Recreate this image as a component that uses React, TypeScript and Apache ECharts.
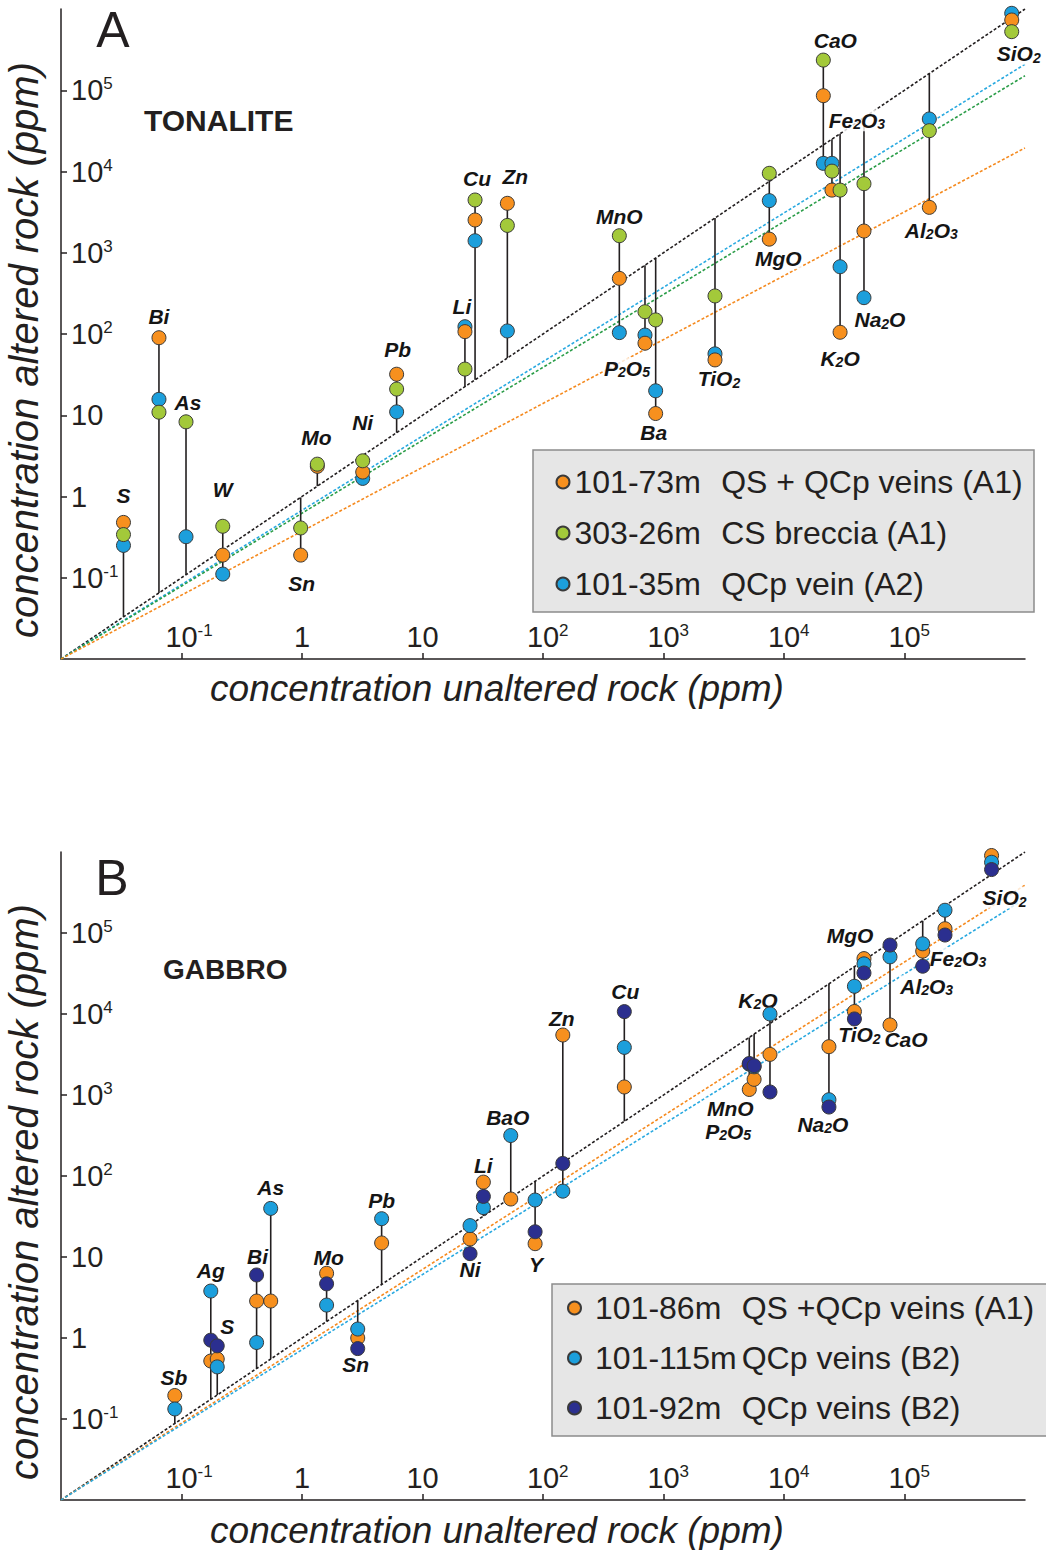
import React, { useEffect, useRef } from 'react';
import * as echarts from 'echarts';

const FONT = '"Liberation Sans", Arial, Helvetica, sans-serif';
const INK = '#231f20';
const LABEL_INK = '#151515';

// ---------- tick labels (powers of ten) ----------
const tickExponents = [-1, 0, 1, 2, 3, 4, 5];
const axisMinExp = -2;
const axisMaxExp = 6;

// ---------- Panel A : TONALITE ----------
const elementsA = ['S', 'Bi', 'As', 'W', 'Sn', 'Mo', 'Ni', 'Pb', 'Li', 'Cu', 'Zn', 'MnO', 'P2O5', 'Ba', 'TiO2', 'MgO', 'CaO', 'Fe2O3', 'K2O', 'Na2O', 'Al2O3', 'SiO2'];
const unalteredA = [0.033, 0.065, 0.109, 0.22, 0.975, 1.34, 3.19, 6.1, 22.5, 27.3, 50.6, 430, 702, 861, 2675, 7550, 21200, 25000, 29200, 46100, 160700, 776000];
const a_101_73 = [0.48, 90, null, 0.19, 0.19, 2.35, 2.0, 32, 107, 2530, 4060, 484, 77, 10.5, 48, 1470, 85700, 5900, 105, 1850, 3620, 732000];
const a_303_26 = [0.34, 10.9, 8.3, 0.43, 0.41, 2.5, 2.75, 21, 37, 4460, 2170, 1620, 188, 149, 294, 9500, 235000, 10100, 5900, 7080, 31800, 526000];
const a_101_35 = [0.25, 15.7, 0.32, 0.111, null, null, 1.67, 11, 123, 1406, 109, 104, 97, 20, 57, 4380, 12600, 12600, 673, 280, 44300, 885000];
const sampleIdsA = ['101-73m', '303-26m', '101-35m'];
const sampleDescA = ['QS + QCp veins (A1)', 'CS breccia (A1)', 'QCp vein (A2)'];
// isocon lines: altered value reached at unaltered = 10^6 (lines start at the origin corner)
const isoconEndA = [1e6, 209000, 151000, 19500];
const isoconColorsA = ['#231f20', '#29a9e0', '#2a9d48', '#f58a1f'];
const labelAnchorA = ['t', 't', 't', 't', 'b', 't', 't', 't', 't', 't', 't', 't', 'b', 'b', 'b', 'b', 't', 't', 'b', 'b', 'b', 'b'];
const labelOffsetA = [[0, -27], [0, -21], [2, -19], [0, -37], [1, 28], [-1, -27], [0, -38], [1, -25], [-3, -20], [2, -21], [8, -27], [0, -19], [-18, 25], [-2, 19], [4, 19], [9, 19], [12, -20], [25, -43], [0, 26], [16, 22], [2, 23], [7, 22]];

// ---------- Panel B : GABBRO ----------
const elementsB = ['Sb', 'Ag', 'S', 'Bi', 'As', 'Mo', 'Sn', 'Pb', 'Ni', 'Li', 'BaO', 'Y', 'Zn', 'Cu', 'MnO', 'P2O5', 'K2O', 'Na2O', 'TiO2', 'MgO', 'CaO', 'Al2O3', 'Fe2O3', 'SiO2'];
const unalteredB = [0.088, 0.175, 0.198, 0.42, 0.55, 1.6, 2.9, 4.58, 24.8, 32, 54, 86, 146, 473, 5150, 5650, 7650, 23600, 38400, 46100, 75800, 141600, 216800, 528000];
const b_101_86 = [0.195, 0.52, 0.55, 2.86, 2.86, 6.3, 1.0, 14.9, 16.7, 84, 52, 14.6, 5500, 1256, 1170, 1560, 3170, 3950, 10740, 48300, 7330, 59700, 113000, 905000];
const b_101_115 = [0.133, 3.8, 0.44, 0.88, 39.8, 2.55, 1.29, 29.7, 24.4, 40.7, 316, 50.5, 65, 3870, 2400, 2230, 10000, 875, 22000, 41600, 50800, 73600, 191000, 747000];
const b_101_92 = [null, 0.94, 0.8, 6.0, null, 4.66, 0.74, null, 11.0, 56, null, 20.5, 143, 10700, 2450, 2300, 1090, 710, 8690, 32100, 71000, 38900, 94400, 607000];
const sampleIdsB = ['101-86m', '101-115m', '101-92m'];
const sampleDescB = ['QS +QCp veins (A1)', 'QCp veins (B2)', 'QCp veins (B2)'];
const isoconEndB = [1e6, 390000, 265000];
const isoconColorsB = ['#231f20', '#f58a1f', '#29a9e0'];
const labelAnchorB = ['t', 't', 't', 't', 't', 't', 'b', 't', 'b', 't', 't', 'b', 't', 't', 'b', 'b', 't', 'b', 'b', 't', 'b', 'b', 'b', 'b'];
const labelOffsetB = [[-1, -18], [0, -21], [10, -19], [1, -18], [0, -21], [2, -16], [-2, 16], [0, -18], [0, 16], [0, -17], [-3, -18], [1, 21], [-1, -17], [1, -20], [-19, 19], [-26, 52], [-12, -14], [-6, 17], [5, 16], [-14, -23], [16, 15], [4, 20], [13, 23], [13, 28]];

const ORANGE = '#f7901e';
const GREEN = '#a3c93a';
const BLUE = '#1c9fdc';
const NAVY = '#2b2f8f';

const lg = (v: number) => Math.log10(v);

const SUP_FS = 17;
function supWidth(s: string) {
  let w = 0;
  for (const c of s) w += (c === '-' ? 0.333 : 0.556) * SUP_FS;
  return w;
}
function tickLabel(v: number, pad: boolean) {
  const e = Math.round(v);
  if (e <= axisMinExp || e >= axisMaxExp) return '';
  if (e === 0) return '{b|1}';
  if (e === 1) return '{b|10}';
  const s = String(e);
  const p = pad ? (e < 0 ? '{pm| }' : '{p| }') : '';
  return `${p}{b|10}{sup|${s}}`;
}
const tickRich = {
  b: { fontSize: 29, fontFamily: FONT, color: INK, lineHeight: 30, verticalAlign: 'middle' },
  sup: { fontSize: SUP_FS, fontFamily: FONT, color: INK, lineHeight: 22, verticalAlign: 'top' },
  p: { width: supWidth('5'), fontSize: SUP_FS },
  pm: { width: supWidth('-1'), fontSize: SUP_FS },
};

function richName(n: string) {
  return n.replace(/([A-Za-z]+)|(\d+)/g, (m: string, a: string, d: string) => (a ? `{b|${a}}` : `{s|${d}}`));
}
const nameRich = {
  b: { fontSize: 21, fontWeight: 'bold', fontStyle: 'italic', fontFamily: FONT, color: LABEL_INK, lineHeight: 22, verticalAlign: 'middle', textBorderWidth: 0, opacity: 1 },
  s: { fontSize: 14, fontWeight: 'bold', fontStyle: 'italic', fontFamily: FONT, color: LABEL_INK, lineHeight: 12, verticalAlign: 'bottom', textBorderWidth: 0, opacity: 1 },
};

function makeAxes(gridIndex: number) {
  const common = {
    gridIndex,
    type: 'value',
    min: axisMinExp,
    max: axisMaxExp,
    interval: 1,
    axisLine: { show: true, onZero: false, lineStyle: { color: INK, width: 1.5 } },
    axisTick: { show: true, inside: true, length: 6, lineStyle: { color: INK, width: 1.5 }, customValues: tickExponents },
    splitLine: { show: false },
    minorTick: { show: false },
  };
  const x = {
    ...common,
    axisLabel: {
      show: true, inside: true, margin: 7, customValues: tickExponents,
      formatter: (v: number) => tickLabel(v, true), rich: tickRich, color: INK, fontFamily: FONT, fontSize: 29,
    },
  };
  const y = {
    ...common,
    axisLabel: {
      show: true, inside: true, margin: 10, customValues: tickExponents,
      formatter: (v: number) => tickLabel(v, false), rich: tickRich, color: INK, fontFamily: FONT, fontSize: 29,
    },
  };
  return { x, y };
}

function panelSeries(
  gi: number,
  elements: string[],
  unaltered: number[],
  samples: (number | null)[][],
  names: string[],
  colors: string[],
  zs: number[],
  isoEnd: number[],
  isoColors: string[],
  anchors: string[],
  offsets: number[][],
) {
  const out: any[] = [];
  isoEnd.forEach((end, k) => {
    out.push({
      type: 'line', xAxisIndex: gi, yAxisIndex: gi, silent: true, z: 1,
      symbol: 'none', showSymbol: false,
      data: [[axisMinExp, axisMinExp], [axisMaxExp, lg(end)]],
      lineStyle: { color: isoColors[k], width: 1.6, type: [3, 2] },
    });
  });
  const stems = elements.map((_, i) => {
    const lx = lg(unaltered[i]);
    const vals = samples.map((s) => s[i]).filter((v) => v != null).map((v) => lg(v as number));
    return [lx, Math.min(lx, ...vals), Math.max(lx, ...vals)];
  });
  out.push({
    type: 'custom', xAxisIndex: gi, yAxisIndex: gi, silent: true, z: 2,
    data: stems,
    encode: { x: 0, y: [1, 2] },
    renderItem: (params: any, api: any) => {
      const a = api.coord([api.value(0), api.value(1)]);
      const b = api.coord([api.value(0), api.value(2)]);
      return { type: 'line', shape: { x1: a[0], y1: a[1], x2: b[0], y2: b[1] }, style: { stroke: INK, lineWidth: 1.6 } };
    },
  });
  const labelData = elements.map((n, i) => {
    const vals = samples.map((s) => s[i]).filter((v) => v != null) as number[];
    const v = anchors[i] === 't' ? Math.max(...vals) : Math.min(...vals);
    return {
      name: n,
      value: [lg(unaltered[i]), lg(v)],
      label: { position: [1 + offsets[i][0], 1 + offsets[i][1]] },
    };
  });
  out.push({
    type: 'scatter', xAxisIndex: gi, yAxisIndex: gi, silent: true, z: 3,
    symbol: 'rect', symbolSize: 2, itemStyle: { color: 'rgba(0,0,0,0)' },
    data: labelData,
    label: {
      show: true, align: 'center', verticalAlign: 'middle', color: LABEL_INK, textBorderWidth: 0,
      formatter: (p: any) => richName(p.name), rich: nameRich,
      backgroundColor: '#ffffff', padding: [0, 1, 0, 1],
    },
    labelLayout: { hideOverlap: false },
  });
  samples.forEach((s, k) => {
    const pts = elements
      .map((_, i) => (s[i] == null ? null : [lg(unaltered[i]), lg(s[i] as number)]))
      .filter((p) => p != null);
    out.push({
      type: 'scatter', name: names[k], xAxisIndex: gi, yAxisIndex: gi, z: zs[k], silent: true,
      symbol: 'circle', symbolSize: 14,
      itemStyle: { color: colors[k], borderColor: '#3a3a3a', borderWidth: 1, opacity: 1 },
      data: pts,
    });
  });
  return out;
}

function legendFor(ids: string[], descs: string[], left: number, top: number, gap: number, textPad: number) {
  const names = ids.map((id, i) => `${id} ${descs[i]}`);
  return {
    data: names, orient: 'vertical', left, top, itemGap: gap,
    itemWidth: 13, itemHeight: 13, icon: 'circle', selectedMode: false,
    padding: 0,
    formatter: (name: string) => {
      const i = names.indexOf(name);
      return `{a|${ids[i]}}{b|${descs[i]}}`;
    },
    textStyle: {
      fontFamily: FONT, fontSize: 32, color: INK, lineHeight: 36,
      rich: {
        a: { fontFamily: FONT, fontSize: 32, color: INK, width: 146.7, lineHeight: 36, padding: [0, 0, 0, textPad] },
        b: { fontFamily: FONT, fontSize: 32, color: INK, lineHeight: 36 },
      },
    },
  };
}

export default function App() {
  const ref = useRef<HTMLDivElement>(null);
  useEffect(() => {
    document.body.style.margin = '0';
    if (!ref.current) return;
    const chart = echarts.init(ref.current, null, { renderer: 'svg' });
    const axA = makeAxes(0);
    const axB = makeAxes(1);
    const namesA = sampleIdsA.map((id, i) => `${id} ${sampleDescA[i]}`);
    const namesB = sampleIdsB.map((id, i) => `${id} ${sampleDescB[i]}`);
    const seriesA = panelSeries(0, elementsA, unalteredA, [a_101_73, a_303_26, a_101_35], namesA,
      [ORANGE, GREEN, BLUE], [5, 6, 4], isoconEndA, isoconColorsA, labelAnchorA, labelOffsetA);
    const seriesB = panelSeries(1, elementsB, unalteredB, [b_101_86, b_101_115, b_101_92], namesB,
      [ORANGE, BLUE, NAVY], [4, 5, 6], isoconEndB, isoconColorsB, labelAnchorB, labelOffsetB);

    const titleStyle = (size: number) => ({ font: `italic ${size}px ${FONT}`, fill: INK });
    const center = { align: 'center', verticalAlign: 'middle', textAlign: 'center', textVerticalAlign: 'middle' };
    const leftMid = { align: 'left', verticalAlign: 'middle', textAlign: 'left', textVerticalAlign: 'middle' };
    const option: any = {
      animation: false,
      backgroundColor: '#ffffff',
      grid: [
        { left: 61, top: 9, width: 964, height: 650, containLabel: false },
        { left: 61, top: 852, width: 964, height: 648, containLabel: false },
      ],
      xAxis: [axA.x, axB.x],
      yAxis: [axA.y, axB.y],
      legend: [
        legendFor(sampleIdsA, sampleDescA, 555.5, 464, 15, 0),
        legendFor(sampleIdsB, sampleDescB, 567, 1290, 14, 9),
      ],
      graphic: [
        { type: 'rect', z: 0, shape: { x: 533, y: 450, width: 501, height: 162 }, style: { fill: '#e6e6e6', stroke: '#8c8c8c', lineWidth: 1.5 } },
        { type: 'rect', z: 0, shape: { x: 552, y: 1284, width: 500, height: 152 }, style: { fill: '#e6e6e6', stroke: '#8c8c8c', lineWidth: 1.5 } },
        { type: 'text', x: 113, y: 30, style: { text: 'A', font: `50px ${FONT}`, fill: INK, ...center } },
        { type: 'text', x: 112, y: 878, style: { text: 'B', font: `50px ${FONT}`, fill: INK, ...center } },
        { type: 'text', x: 144, y: 120, style: { text: 'TONALITE', font: `bold 30px ${FONT}`, fill: INK, ...leftMid } },
        { type: 'text', x: 163, y: 969, style: { text: 'GABBRO', font: `bold 28px ${FONT}`, fill: INK, ...leftMid } },
        { type: 'text', x: 497, y: 688, style: { text: 'concentration unaltered rock (ppm)', ...titleStyle(37), ...center } },
        { type: 'text', x: 497, y: 1530, style: { text: 'concentration unaltered rock (ppm)', ...titleStyle(37), ...center } },
        { type: 'text', x: 24, y: 350, rotation: Math.PI / 2, style: { text: 'concentration altered rock (ppm)', ...titleStyle(40), ...center } },
        { type: 'text', x: 24, y: 1192, rotation: Math.PI / 2, style: { text: 'concentration altered rock (ppm)', ...titleStyle(40), ...center } },
      ],
      series: [...seriesA, ...seriesB],
    };
    chart.setOption(option);
    return () => chart.dispose();
  }, []);
  return <div ref={ref} style={{ width: 1046, height: 1550 }} />;
}
